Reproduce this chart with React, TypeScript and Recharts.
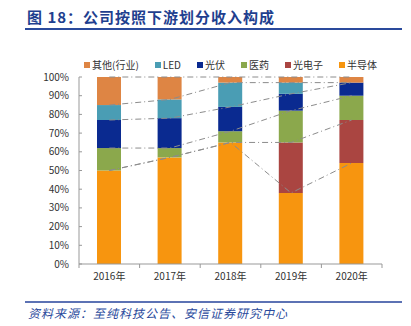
import React from "react"
import { ComposedChart, Bar, Line, XAxis, YAxis } from "recharts"

const years = ["2016年", "2017年", "2018年", "2019年", "2020年"]

// share of revenue by downstream segment, %
const semiconductor = [50, 57, 65, 38, 54]
const optoelectronics = [0, 0, 0, 27, 23]
const pharma = [12, 5, 6, 17, 13]
const photovoltaic = [15, 16, 13, 9, 7]
const led = [8, 10, 13, 6, 0]
const other = [15, 12, 3, 3, 3]

const yTicks = [0, 10, 20, 30, 40, 50, 60, 70, 80, 90, 100]

const series = [
  { key: "semi", name: "半导体", values: semiconductor, color: "#F7950F" },
  { key: "opto", name: "光电子", values: optoelectronics, color: "#AA4541" },
  { key: "pharma", name: "医药", values: pharma, color: "#8BA84C" },
  { key: "pv", name: "光伏", values: photovoltaic, color: "#0A2A90" },
  { key: "led", name: "LED", values: led, color: "#4A9DB4" },
  { key: "other", name: "其他(行业)", values: other, color: "#DE8544" },
]

const data = years.map((year, i) => {
  const row: Record<string, any> = { year }
  let sum = 0
  series.forEach((s) => {
    row[s.key] = s.values[i]
    sum += s.values[i]
    row["cum_" + s.key] = sum
  })
  return row
})

const XTick = (props: any) => {
  const { x, y, payload, index, width, visibleTicksCount } = props
  const band = width / visibleTicksCount
  const axisY = y - 8
  return (
    <g>
      <line x1={x - band / 2} x2={x - band / 2} y1={axisY} y2={axisY + 4} stroke="#999" />
      {index === visibleTicksCount - 1 && (
        <line x1={x + band / 2} x2={x + band / 2} y1={axisY} y2={axisY + 4} stroke="#999" />
      )}
      <text x={x} y={y + 8} textAnchor="middle" fontSize={10} fill="#333">
        {payload.value}
      </text>
    </g>
  )
}

const YTick = (props: any) => {
  const { x, y, payload } = props
  return (
    <g>
      <line x1={x + 10} x2={x + 13} y1={y} y2={y} stroke="#999" />
      <text x={x} y={y + 3.5} textAnchor="end" fontSize={10} fill="#333">
        {payload.value + "%"}
      </text>
    </g>
  )
}

const LegendBox = () => (
  <div style={{ display: "flex", justifyContent: "center", fontSize: 10, color: "#333", gap: 16 }}>
    {[...series].reverse().map((s) => (
      <span key={s.key} style={{ display: "flex", alignItems: "center" }}>
        <span style={{ width: 6, height: 6, background: s.color, marginRight: 2, display: "inline-block" }} />
        {s.name}
      </span>
    ))}
  </div>
)

export default function App() {
  return (
    <div
      style={{
        position: "fixed",
        left: 0,
        top: 0,
        width: 411,
        height: 326,
        background: "#fff",
        fontFamily: "'Noto Sans CJK SC', Arial, sans-serif",
      }}
    >
      <div
        style={{
          position: "absolute",
          left: 27,
          top: 8,
          fontSize: 15,
          fontWeight: 700,
          color: "#1F3F8F",
          letterSpacing: 1,
          lineHeight: "18px",
        }}
      >
        图 18：公司按照下游划分收入构成
      </div>
      <div style={{ position: "absolute", left: 25, top: 28, width: 377, height: 2, background: "#2A4A9C" }} />

      <div style={{ position: "absolute", left: 0, top: 0 }}>
        <ComposedChart width={411} height={292} data={data} margin={{ top: 77, right: 29, bottom: 0, left: 0 }}>
          <XAxis
            dataKey="year"
            axisLine={{ stroke: "#999" }}
            tickLine={false}
            tick={<XTick />}
            height={28}
            interval={0}
          />
          <YAxis
            domain={[0, 100]}
            ticks={yTicks}
            axisLine={{ stroke: "#999" }}
            tickLine={false}
            tickSize={0}
            tickMargin={10}
            tick={<YTick />}
            width={79}
            interval={0}
          />
          {series.map((s) => (
            <Line
              key={"l" + s.key}
              dataKey={"cum_" + s.key}
              stroke="#8c8c8c"
              strokeWidth={1}
              strokeDasharray="6 3 1 3"
              dot={false}
              activeDot={false}
              legendType="none"
              type="linear"
              isAnimationActive={false}
            />
          ))}
          {series.map((s) => (
            <Bar
              key={s.key}
              dataKey={s.key}
              name={s.name}
              stackId="a"
              fill={s.color}
              barSize={24}
              isAnimationActive={false}
            />
          ))}
        </ComposedChart>
      </div>

      <div style={{ position: "absolute", left: 79, top: 57, width: 303 }}>
        <LegendBox />
      </div>

      <div style={{ position: "absolute", left: 25, top: 301, width: 377, height: 2, background: "#5C72B4" }} />
      <div
        style={{
          position: "absolute",
          left: 28,
          top: 305,
          fontSize: 12,
          fontStyle: "italic",
          color: "#2A4A9C",
          letterSpacing: 1,
          lineHeight: "16px",
        }}
      >
        资料来源：至纯科技公告、安信证券研究中心
      </div>
    </div>
  )
}
